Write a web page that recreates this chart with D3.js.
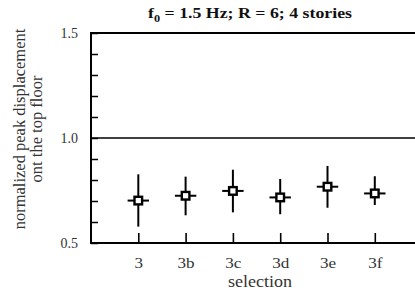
<!DOCTYPE html>
<html><head><meta charset="utf-8">
<script src="https://cdn.jsdelivr.net/npm/d3@7"></script>
<style>body{margin:0;background:#fff}svg{display:block}svg text{font-family:'Liberation Serif','Times New Roman',Times,serif}</style>
</head><body>
<svg id="c" width="415" height="291"></svg>
<script>
const categories = ["3","3b","3c","3d","3e","3f"];
const centers = [0.702,0.725,0.748,0.717,0.768,0.736];
const uppers  = [0.827,0.816,0.849,0.805,0.867,0.818];
const lowers  = [0.578,0.632,0.646,0.637,0.668,0.681];
const yTicks = [0.5,1.0,1.5];

const svg = d3.select("#c");
const L = 91, R = 415, T = 33, B = 243;
const x = d3.scaleLinear().domain([0,7]).range([L, L+7*47.3]);
const y = d3.scaleLinear().domain([0.5,1.5]).range([B,T]);

const g = svg.append("g");
g.append("line").attr("x1",L).attr("x2",R).attr("y1",y(1.5)).attr("y2",y(1.5)).attr("stroke","#000").attr("stroke-width",2);
g.append("line").attr("x1",L).attr("x2",R).attr("y1",y(1.0)).attr("y2",y(1.0)).attr("stroke","#000").attr("stroke-width",1.6);
g.append("line").attr("x1",L).attr("x2",R).attr("y1",y(0.5)).attr("y2",y(0.5)).attr("stroke","#000").attr("stroke-width",2);
g.append("line").attr("x1",L).attr("x2",L).attr("y1",y(1.5)-1).attr("y2",y(0.5)+1).attr("stroke","#000").attr("stroke-width",2);

const yAxis = d3.axisLeft(y).tickValues(d3.range(0.5,1.5001,0.1)).tickSize(-7).tickFormat("");
const ya = svg.append("g").attr("transform",`translate(${L},0)`).call(yAxis);
ya.attr("font-family",null);
ya.select(".domain").remove();
ya.selectAll("line").attr("stroke","#000").attr("stroke-width",1.5);
svg.selectAll(".ytl").data(yTicks).join("text").attr("class","ytl")
  .attr("x",78).attr("y",d=>y(d)).attr("dy","0.36em").attr("text-anchor","end")
  .attr("font-size",14).attr("fill","#333").text(d=>d.toFixed(1));

const xAxis = d3.axisBottom(x).tickValues(d3.range(1,7)).tickSize(-10).tickFormat(i=>categories[i-1]);
const xa = svg.append("g").attr("transform",`translate(0,${B})`).call(xAxis);
xa.attr("font-family",null).attr("font-size",null);
xa.select(".domain").remove();
xa.selectAll("line").attr("stroke","#000").attr("stroke-width",1.6);
xa.selectAll("text").attr("y",25).attr("dy",null).attr("font-size",14.5).attr("fill","#333")
  .attr("transform","scale(1.18,1)");

svg.append("text").attr("x",260).attr("y",287).attr("text-anchor","middle").attr("font-size",16)
  .attr("fill","#333").attr("textLength",64).attr("lengthAdjust","spacingAndGlyphs").text("selection");

const yl = svg.append("text").attr("transform",`translate(25,129) rotate(-90)`).attr("text-anchor","middle").attr("font-size",16.5).attr("fill","#333");
yl.append("tspan").attr("x",0).attr("dy",0).text("normalized peak displacement");
yl.append("tspan").attr("x",0).attr("dy",17).text("ont the top floor");

const t = svg.append("text").attr("x",250).attr("y",18).attr("text-anchor","middle").attr("font-size",14.5).attr("font-weight","bold").attr("fill","#111")
  .attr("textLength",204).attr("lengthAdjust","spacingAndGlyphs");
t.append("tspan").text("f");
t.append("tspan").attr("font-size",10).attr("dy",4).text("0");
t.append("tspan").attr("dy",-4).text(" = 1.5 Hz; R = 6; 4 stories");

const data = categories.map((c,i)=>({c,i:i+1,m:centers[i],u:uppers[i],l:lowers[i]}));
const mg = svg.append("g");
mg.selectAll(".v").data(data).join("line").attr("x1",d=>x(d.i)).attr("x2",d=>x(d.i))
  .attr("y1",d=>y(d.u)).attr("y2",d=>y(d.l)).attr("stroke","#000").attr("stroke-width",2);
mg.selectAll(".h").data(data).join("line").attr("x1",d=>x(d.i)-10.7).attr("x2",d=>x(d.i)+10.7)
  .attr("y1",d=>y(d.m)).attr("y2",d=>y(d.m)).attr("stroke","#000").attr("stroke-width",2);
mg.selectAll(".s").data(data).join("rect").attr("x",d=>x(d.i)-3.8).attr("y",d=>y(d.m)-3.8)
  .attr("width",7.6).attr("height",7.6).attr("fill","#fff").attr("stroke","#000").attr("stroke-width",2.4);
</script>
</body></html>
